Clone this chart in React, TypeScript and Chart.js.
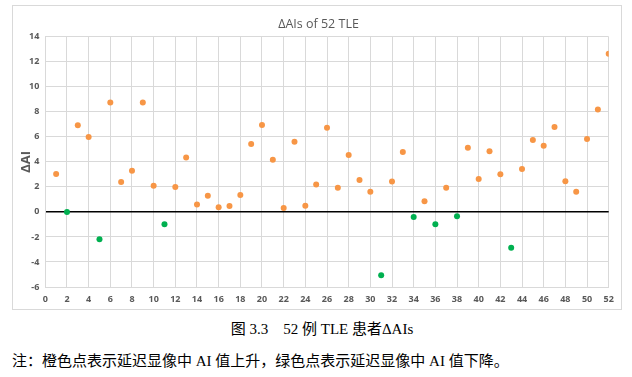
import React, { useEffect, useRef } from "react";
import { Chart, registerables } from "chart.js";

Chart.register(...registerables);

// Cases whose AI rose in delayed imaging (orange)
const risingCases = [
  1, 3, 4, 6, 7, 8, 9, 10, 12, 13, 14, 15, 16, 17, 18, 19, 20, 21, 22, 23, 24,
  25, 26, 27, 28, 29, 30, 32, 33, 35, 37, 39, 40, 41, 42, 44, 45, 46, 47, 48,
  49, 50, 51, 52,
];
const risingValues = [
  3.03, 6.92, 5.98, 8.75, 2.39, 3.29, 8.75, 2.09, 1.99, 4.35, 0.6, 1.3, 0.37,
  0.47, 1.35, 5.42, 6.94, 4.17, 0.31, 5.61, 0.5, 2.2, 6.73, 1.94, 4.54, 2.55,
  1.62, 2.42, 4.78, 0.85, 1.94, 5.13, 2.63, 4.84, 3.0, 3.43, 5.74, 5.29, 6.78,
  2.44, 1.62, 5.82, 8.19, 12.64,
];

// Cases whose AI fell in delayed imaging (green)
const fallingCases = [2, 5, 11, 31, 34, 36, 38, 43];
const fallingValues = [0, -2.19, -0.99, -5.07, -0.41, -0.99, -0.35, -2.86];

const chartTitle = "ΔAIs of 52 TLE";
const yAxisTitle = "ΔAI";
const figureCaption = "图 3.3    52 例 TLE 患者ΔAIs";
const figureNote =
  "注：橙色点表示延迟显像中 AI 值上升，绿色点表示延迟显像中 AI 值下降。";

const ORANGE = "#F79646";
const GREEN = "#00B050";
const GRID = "#d9d9d9";
const TEXT = "#595959";
const FONT = "'Open Sans', 'Liberation Sans', sans-serif";

export default function App() {
  const canvasRef = useRef<HTMLCanvasElement | null>(null);

  useEffect(() => {
    if (!canvasRef.current) return;
    const tickFont = { family: FONT, size: 9, weight: "bold" as const };
    const chart = new Chart(canvasRef.current, {
      type: "scatter",
      data: {
        datasets: [
          {
            data: risingCases.map((x, i) => ({ x, y: risingValues[i] })),
            backgroundColor: ORANGE,
            borderColor: ORANGE,
            pointRadius: 3,
            pointBorderWidth: 0,
          },
          {
            data: fallingCases.map((x, i) => ({ x, y: fallingValues[i] })),
            backgroundColor: GREEN,
            borderColor: GREEN,
            pointRadius: 3,
            pointBorderWidth: 0,
          },
        ],
      },
      options: {
        animation: false,
        responsive: false,
        devicePixelRatio: 1,
        layout: { padding: { left: 0, right: 23.3, top: 36.7, bottom: 0 } },
        plugins: {
          legend: { display: false },
          tooltip: { enabled: false },
          title: { display: false },
        },
        scales: {
          x: {
            type: "linear",
            min: 0,
            max: 52,
            ticks: {
              stepSize: 2,
              color: TEXT,
              font: tickFont,
              padding: 7,
              maxRotation: 0,
              autoSkip: false,
            },
            grid: { color: GRID, drawTicks: false },
            border: { color: GRID },
            afterFit: (s: any) => {
              s.height = 25;
            },
          },
          y: {
            type: "linear",
            min: -6,
            max: 14,
            ticks: {
              stepSize: 2,
              color: TEXT,
              font: tickFont,
              padding: 6,
            },
            grid: {
              color: (ctx: any) =>
                ctx.tick && ctx.tick.value === 0 ? "#000000" : GRID,
              lineWidth: (ctx: any) =>
                ctx.tick && ctx.tick.value === 0 ? 1.5 : 1,
              drawTicks: false,
            },
            border: { color: GRID },
            title: {
              display: true,
              text: yAxisTitle,
              color: TEXT,
              font: { family: FONT, size: 13, weight: "bold" },
              padding: { top: 18, bottom: 0 },
            },
            afterFit: (s: any) => {
              s.width = 45.3;
            },
          },
        },
      },
    });
    return () => chart.destroy();
  }, []);

  return (
    <div
      style={{
        position: "absolute",
        left: 0,
        top: 0,
        width: 632,
        height: 377,
        background: "#ffffff",
        overflow: "hidden",
      }}
    >
      <div
        style={{
          position: "absolute",
          left: 12,
          top: 5,
          width: 610,
          height: 305,
          border: "1px solid #d9d9d9",
          boxSizing: "border-box",
        }}
      />
      <canvas
        ref={canvasRef}
        width={632}
        height={312}
        style={{ position: "absolute", left: 0, top: 0, width: 632, height: 312 }}
      />
      <div
        style={{
          position: "absolute",
          left: 0,
          width: 637,
          top: 16,
          textAlign: "center",
          fontFamily: FONT,
          fontSize: 12.5,
          lineHeight: "16px",
          color: TEXT,
          whiteSpace: "pre",
        }}
      >
        {chartTitle}
      </div>
      <div
        style={{
          position: "absolute",
          left: 0,
          width: 644,
          top: 317,
          textAlign: "center",
          fontFamily: "'Liberation Serif', 'Noto Sans CJK SC', serif",
          fontSize: 15,
          whiteSpace: "pre",
          color: "#000",
        }}
      >
        {figureCaption}
      </div>
      <div
        style={{
          position: "absolute",
          left: 12,
          top: 349,
          fontFamily: "'Liberation Serif', 'Noto Sans CJK SC', serif",
          fontSize: 15,
          whiteSpace: "pre",
          color: "#000",
        }}
      >
        {figureNote}
      </div>
    </div>
  );
}
